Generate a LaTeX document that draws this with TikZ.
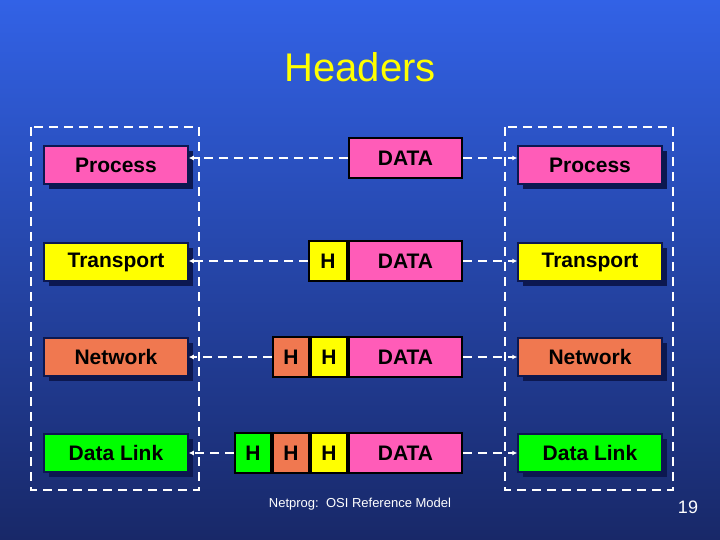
\documentclass[tikz,border=0pt]{standalone}
\usepackage{fontspec}
\setmainfont{Liberation Sans}
\usetikzlibrary{arrows.meta}
\definecolor{pinkc}{HTML}{FF5CB8}
\definecolor{yelc}{HTML}{FFFF00}
\definecolor{orac}{HTML}{F07850}
\definecolor{grnc}{HTML}{00FF00}
\definecolor{shad}{HTML}{0C1850}
\definecolor{bgtop}{HTML}{3262E6}
\definecolor{bgbot}{HTML}{182868}
\begin{document}
\begin{tikzpicture}[x=1pt,y=-1pt,
 layer/.style={draw=shad,line width=1.5pt,minimum width=144pt,minimum height=38pt,inner sep=0pt,font=\bfseries\fontsize{21}{21}\selectfont},
 cell/.style={draw=black,line width=2pt,minimum height=40pt,inner sep=0pt,font=\bfseries\fontsize{21}{21}\selectfont},
 hd/.style={cell,minimum width=36pt},
 dt/.style={cell,fill=pinkc,minimum width=113pt},
 dline/.style={white,line width=2.2pt,dash pattern=on 9pt off 6pt},
 box/.style={white,line width=2.5pt,dash pattern=on 9pt off 6pt},
 arr/.style={dline,-{Latex[length=5pt,width=5pt]}}]
\fill[top color=bgtop,bottom color=bgbot] (0,0) rectangle (720,540);
\useasboundingbox (0,0) rectangle (720,540);
\node[text=yelc,font=\fontsize{40}{40}\selectfont] (title) at (360,67) {Headers};
\draw[box] (31,127) rectangle (199,490);
\draw[box] (505,127) rectangle (673,490);
\foreach \y in {165,262,357,453}{
  \fill[shad] (49,\y-14) rectangle (193,\y+24);
  \fill[shad] (523,\y-14) rectangle (667,\y+24);
}
\node[layer,fill=pinkc] (Lp) at (116,165) {Process};
\node[layer,fill=yelc] (Lt) at (116,262) {Transport};
\node[layer,fill=orac] (Ln) at (116,357) {Network};
\node[layer,fill=grnc] (Ld) at (116,453) {Data Link};
\node[layer,fill=pinkc] (Rp) at (590,165) {Process};
\node[layer,fill=yelc] (Rt) at (590,262) {Transport};
\node[layer,fill=orac] (Rn) at (590,357) {Network};
\node[layer,fill=grnc] (Rd) at (590,453) {Data Link};
\node[dt] (D1) at (405.5,158) {DATA};
\node[dt] (D2) at (405.5,261) {DATA};
\node[hd,fill=yelc,minimum width=38pt,anchor=east] (H2a) at (D2.west) {H};
\node[dt] (D3) at (405.5,357) {DATA};
\node[hd,fill=yelc,anchor=east] (H3b) at (D3.west) {H};
\node[hd,fill=orac,anchor=east] (H3a) at (H3b.west) {H};
\node[dt] (D4) at (405.5,453) {DATA};
\node[hd,fill=yelc,anchor=east] (H4c) at (D4.west) {H};
\node[hd,fill=orac,anchor=east] (H4b) at (H4c.west) {H};
\node[hd,fill=grnc,anchor=east] (H4a) at (H4b.west) {H};
\draw[arr] (D1.west) -- (Lp.east |- D1.west);
\draw[arr] (D1.east) -- (Rp.west |- D1.east);
\draw[arr] (H2a.west) -- (Lt.east |- H2a.west);
\draw[arr] (D2.east) -- (Rt.west |- D2.east);
\draw[arr] (H3a.west) -- (Ln.east);
\draw[arr] (D3.east) -- (Rn.west);
\draw[arr] (H4a.west) -- (Ld.east);
\draw[arr] (D4.east) -- (Rd.west);
\node[white,font=\fontsize{13}{13}\selectfont] (foot) at (360,504) {Netprog:\ \ OSI Reference Model};
\node[white,font=\fontsize{18}{18}\selectfont] (num) at (688,507) {19};
\end{tikzpicture}
\end{document}
